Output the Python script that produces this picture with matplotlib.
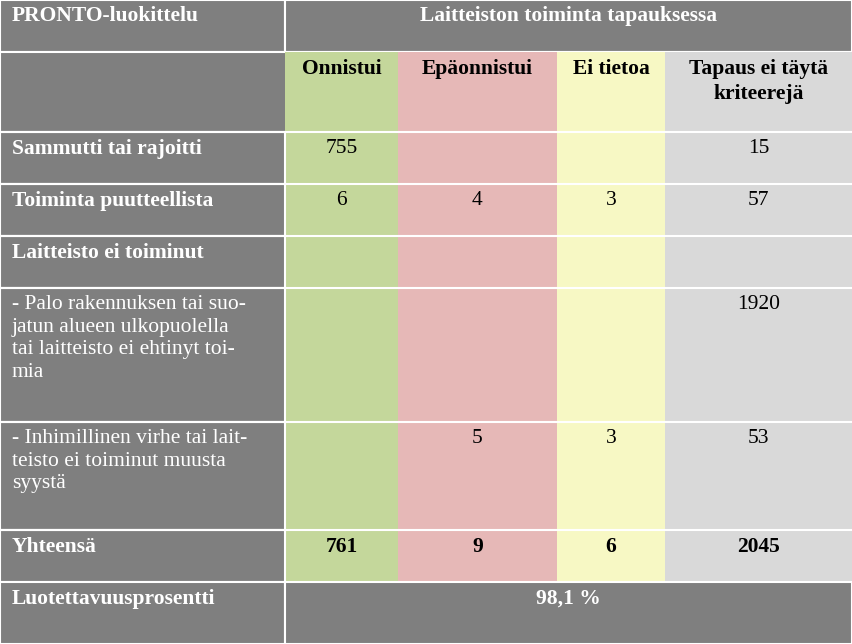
import matplotlib
matplotlib.use("Agg")
import matplotlib.pyplot as plt
from matplotlib.patches import Rectangle

title_left = "PRONTO-luokittelu"
title_right = "Laitteiston toiminta tapauksessa"
col_headers = ["Onnistui", "Epäonnistui", "Ei tietoa", "Tapaus ei täytä\nkriteerejä"]
row_labels = ["Sammutti tai rajoitti", "Toiminta puutteellista", "Laitteisto ei toiminut",
              "- Palo rakennuksen tai suo-\njatun alueen ulkopuolella\ntai laitteisto ei ehtinyt toi-\nmia",
              "- Inhimillinen virhe tai lait-\nteisto ei toiminut muusta\nsyystä",
              "Yhteensä"]
row_bold = [True, True, True, False, False, True]
values = [["755", "", "", "15"],
          ["6", "4", "3", "57"],
          ["", "", "", ""],
          ["", "", "", "1920"],
          ["", "5", "3", "53"],
          ["761", "9", "6", "2045"]]
footer_label = "Luotettavuusprosentti"
footer_value = "98,1 %"

W, H = 852, 644
xs = [0, 285, 398, 557, 665, 852]
ys = [0, 52, 132, 184, 236, 288, 422, 530, 582, 644]
dark = "#7f7f7f"
colfill = ["#c4d79b", "#e6b8b7", "#f7f8c4", "#d9d9d9"]
font = ["Liberation Serif", "DejaVu Serif"]
FS = 15.5

fig = plt.figure(figsize=(W/100, H/100), dpi=100)
ax = fig.add_axes([0, 0, 1, 1])
ax.set_xlim(0, W); ax.set_ylim(H, 0); ax.axis("off")

def rect(x0, y0, x1, y1, c):
    ax.add_patch(Rectangle((x0, y0), x1-x0, y1-y0, facecolor=c, edgecolor="white", lw=1.5))

rect(0, 0, xs[1], ys[1], dark)
rect(xs[1], 0, W, ys[1], dark)
ax.text(12, 6, title_left, color="white", fontsize=FS, fontweight="bold", family=font, va="top")
ax.text((xs[1]+W)/2, 6, title_right, color="white", fontsize=FS, fontweight="bold", family=font, va="top", ha="center")
rect(0, ys[1], W, ys[2], dark)
for j in range(4):
    ax.add_patch(Rectangle((xs[j+1], ys[1]), xs[j+2]-xs[j+1], ys[8]-ys[1], facecolor=colfill[j], edgecolor="none"))
    ax.text((xs[j+1]+xs[j+2])/2, ys[1]+7, col_headers[j], fontsize=FS, fontweight="bold", family=font,
            ha="center", va="top", linespacing=1.3)
for i, lab in enumerate(row_labels):
    y0, y1 = ys[i+2], ys[i+3]
    rect(0, y0, xs[1], y1, dark)
    ax.text(12, y0+7, lab, color="white", fontsize=FS,
            fontweight="bold" if row_bold[i] else "normal", family=font, va="top", linespacing=1.25)
    for j in range(4):
        ax.text((xs[j+1]+xs[j+2])/2, y0+7, values[i][j], fontsize=FS,
                fontweight="bold" if i == 5 else "normal", family=font, ha="center", va="top")
    ax.plot([0, W], [y0, y0], color="white", lw=1.5)
rect(0, ys[8], xs[1], H, dark)
rect(xs[1], ys[8], W, H, dark)
ax.text(12, ys[8]+7, footer_label, color="white", fontsize=FS, fontweight="bold", family=font, va="top")
ax.text((xs[1]+W)/2, ys[8]+7, footer_value, color="white", fontsize=FS, fontweight="bold", family=font, va="top", ha="center")

fig.savefig("out.png", dpi=100)
